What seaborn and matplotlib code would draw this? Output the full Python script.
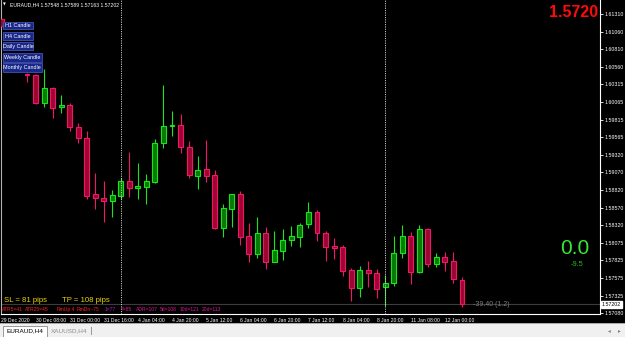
import matplotlib
matplotlib.use("Agg")
import matplotlib.pyplot as plt
import matplotlib.transforms as mtransforms
from matplotlib.patches import Rectangle
import seaborn as sns
import pandas as pd

# ---------------- data (EURAUD, H4) ----------------
opens = [1.61239, 1.61169, 1.60588, 1.60468, 1.60447, 1.60051, 1.60263, 1.59994, 1.60023, 1.59711,
         1.59556, 1.58763, 1.58707, 1.58665, 1.58735, 1.58947, 1.58848, 1.58863, 1.58933, 1.59485,
         1.59719, 1.59740, 1.59428, 1.59018, 1.59117, 1.59032, 1.58283, 1.58551, 1.58763, 1.58169,
         1.57915, 1.58212, 1.57801, 1.57957, 1.58112, 1.58155, 1.58339, 1.58509, 1.58212, 1.58028,
         1.58014, 1.57688, 1.57434, 1.57688, 1.57646, 1.57448, 1.57504, 1.57929, 1.58169, 1.57660,
         1.58268, 1.57773, 1.57872, 1.57816, 1.57548]
highs = [1.61268, 1.61183, 1.60603, 1.60475, 1.60461, 1.60532, 1.60277, 1.60164, 1.60051, 1.59768,
         1.59655, 1.59061, 1.58947, 1.58820, 1.58990, 1.59358, 1.59202, 1.59046, 1.59542, 1.60306,
         1.59938, 1.59895, 1.59513, 1.59301, 1.59527, 1.59103, 1.58622, 1.58763, 1.58806, 1.58353,
         1.58438, 1.58297, 1.58240, 1.58268, 1.58311, 1.58353, 1.58650, 1.58537, 1.58240, 1.58141,
         1.58042, 1.57717, 1.57745, 1.57816, 1.57702, 1.57617, 1.58169, 1.58325, 1.58226, 1.58325,
         1.58283, 1.57929, 1.57943, 1.57943, 1.57589]
lows = [1.61112, 1.61098, 1.60504, 1.60348, 1.60037, 1.59994, 1.59839, 1.59909, 1.59655, 1.59485,
        1.58693, 1.58551, 1.58368, 1.58438, 1.58693, 1.58721, 1.58693, 1.58622, 1.58919, 1.59414,
        1.59584, 1.59343, 1.58990, 1.58834, 1.58933, 1.58268, 1.58155, 1.58297, 1.58042, 1.57801,
        1.57858, 1.57702, 1.57801, 1.57830, 1.58028, 1.58014, 1.58283, 1.58098, 1.57816, 1.57844,
        1.57603, 1.57250, 1.57306, 1.57448, 1.57292, 1.57179, 1.57462, 1.57858, 1.57490, 1.57646,
        1.57731, 1.57731, 1.57674, 1.57504, 1.57163]
closes = [1.61140, 1.61126, 1.60518, 1.60440, 1.60051, 1.60263, 1.59980, 1.60023, 1.59711, 1.59556,
          1.58735, 1.58707, 1.58665, 1.58749, 1.58947, 1.58848, 1.58877, 1.58947, 1.59485, 1.59726,
          1.59733, 1.59428, 1.59032, 1.59103, 1.59018, 1.58283, 1.58565, 1.58763, 1.58155, 1.57915,
          1.58212, 1.57801, 1.57971, 1.58112, 1.58169, 1.58325, 1.58509, 1.58212, 1.58014, 1.57999,
          1.57674, 1.57434, 1.57688, 1.57646, 1.57420, 1.57504, 1.57929, 1.58169, 1.57660, 1.58268,
          1.57773, 1.57872, 1.57801, 1.57561, 1.57202]

time_label_bars = [0, 4, 8, 12, 16, 20, 24, 28, 32, 36, 40, 44, 48, 52]
time_labels = ["29 Dec 2020", "30 Dec 08:00", "31 Dec 00:00", "31 Dec 16:00", "4 Jan 04:00",
               "4 Jan 20:00", "5 Jan 12:00", "6 Jan 04:00", "6 Jan 20:00", "7 Jan 12:00",
               "8 Jan 04:00", "8 Jan 20:00", "11 Jan 08:00", "12 Jan 00:00"]
price_labels = ["1.61310", "1.61060", "1.60810", "1.60560", "1.60315", "1.60065", "1.59815",
                "1.59565", "1.59320", "1.59070", "1.58820", "1.58570", "1.58320", "1.58075",
                "1.57825", "1.57575", "1.57325", "1.57080"]
separator_bars = [14, 45]
current_price = 1.57202
title_text = "EURAUD,H4 1.57548 1.57589 1.57163 1.57202"
buttons = ["H1 Candle", "H4 Candle", "Daily Candle", "Weekly Candle", "Monthly Candle"]
info_items = ["ATR5=41", "ATR25=45", "RmUp:4", "RmDn:-75", "1=77", "7=85", "ADR=107",
              "5d=108", "10d=121", "20d=113"]

# ---------------- style ----------------
sns.set_style("dark", {"axes.facecolor": "black", "figure.facecolor": "black"})
plt.rcParams["font.family"] = ["Liberation Sans", "DejaVu Sans"]

W, H = 625, 337
fig = plt.figure(figsize=(W / 100, H / 100), dpi=100, facecolor="black")


def fx(x):
    return x / W


def fy(y):
    return 1 - y / H


ax = fig.add_axes([fx(1), fy(314), (600 - 1) / W, 314 / H])
ax.set_facecolor("black")

df = pd.DataFrame({"bar": range(len(opens)), "open": opens, "high": highs,
                   "low": lows, "close": closes})
df["up"] = df["close"] >= df["open"]
df["bottom"] = df[["open", "close"]].min(axis=1)
df["height"] = (df["close"] - df["open"]).abs()

GREEN_FILL, GREEN_EDGE = "#077a07", "#19e619"
RED_FILL, RED_EDGE = "#9c0730", "#f0176a"

up = df[df["up"]]
dn = df[~df["up"]]

# wicks
ax.vlines(up["bar"], up["low"], up["high"], colors=GREEN_EDGE, linewidth=0.8, zorder=2)
ax.vlines(dn["bar"], dn["low"], dn["high"], colors=RED_EDGE, linewidth=0.8, zorder=2)
# bodies
ax.bar(up["bar"], up["height"], bottom=up["bottom"], width=0.58, color=GREEN_FILL,
       edgecolor=GREEN_EDGE, linewidth=0.8, zorder=3)
ax.bar(dn["bar"], dn["height"], bottom=dn["bottom"], width=0.58, color=RED_FILL,
       edgecolor=RED_EDGE, linewidth=0.8, zorder=3)

# period separators and bid line
for b in separator_bars:
    ax.axvline(b, color="#c8c8c8", linestyle=(0, (1.2, 1.2)), linewidth=0.7, zorder=4)
ax.axhline(current_price, color="#3c3c3c", linewidth=0.8, zorder=1)

# limits (1 bar = 8.53 px)
ax.set_xlim((1 - 1.4) / 8.53, (600 - 1.4) / 8.53)
ax.set_ylim(1.570659, 1.615081)
ax.grid(False)

# axes frame
for s in ["top"]:
    ax.spines[s].set_visible(False)
for s in ["right", "bottom"]:
    ax.spines[s].set_color("white")
    ax.spines[s].set_linewidth(0.8)
ax.spines["left"].set_color("#b0b0b0")
ax.spines["left"].set_linewidth(0.8)

# price axis
ax.yaxis.tick_right()
ax.set_yticks([float(v) for v in price_labels])
ax.set_yticklabels(price_labels)
ax.tick_params(axis="y", which="both", left=False, right=True, colors="white",
               labelsize=3.8, length=2.2, width=0.6, pad=1)
# time axis
ax.set_xticks(time_label_bars)
ax.set_xticklabels(time_labels, ha="left")
ax.tick_params(axis="x", colors="white", labelsize=3.6, length=2, width=0.6, pad=0.6)

# current price box
trans = mtransforms.blended_transform_factory(ax.transAxes, ax.transData)
ax.text(1.003, current_price, "1.57202", transform=trans, fontsize=3.8, color="black",
        ha="left", va="center", clip_on=False, zorder=10,
        bbox=dict(facecolor="white", edgecolor="white", pad=0.6))

# ---------------- overlays ----------------
fig.text(fx(2.5), fy(5), "\u25bc", fontsize=2.6, color="white", ha="left", va="center",
         family=["DejaVu Sans"])
fig.text(fx(10), fy(5.2), title_text, fontsize=3.7, color="white", ha="left", va="center")

btn_boxes = [(3.3, 21.7, 30, 7.5), (3.3, 32, 30, 8), (3.3, 42.3, 30, 7.7),
             (2.7, 53.3, 39, 8.4), (2.7, 63.3, 39, 9)]
for label, (bx, by, bw, bh) in zip(buttons, btn_boxes):
    r = Rectangle((fx(bx), fy(by + bh)), bw / W, bh / H, transform=fig.transFigure,
                  facecolor="#18278a", edgecolor="#4453b5", linewidth=0.6, zorder=20)
    fig.add_artist(r)
    fig.text(fx(bx + bw / 2), fy(by + bh / 2), label, fontsize=3.9, color="white",
             ha="center", va="center", zorder=21)

fig.text(fx(598), fy(12.8), "1.5720", fontsize=11.5, fontweight="bold", color="#ff0a0a",
         ha="right", va="center")
fig.text(fx(575), fy(248), "0.0", fontsize=15, color="#35e835", ha="center", va="center")
fig.text(fx(577), fy(264.5), "-9.5", fontsize=5.3, color="#22b822", ha="center", va="center")

fig.text(fx(4), fy(301), "SL = 81 pips", fontsize=5.6, color="#e6d400", ha="left", va="center")
fig.text(fx(62), fy(301), "TP = 108 pips", fontsize=5.6, color="#e6d400", ha="left", va="center")

info_x = [2, 25, 57, 77, 105, 121, 136, 160, 180, 202]
info_col = ["#ff1e1e", "#ff1e1e", "#ff1e1e", "#ff1e1e", "#b21fc8", "#e0159a", "#e0159a",
            "#e0159a", "#e0159a", "#e0159a"]
for t, xx, c in zip(info_items, info_x, info_col):
    fig.text(fx(xx), fy(309.3), t, fontsize=3.6, color=c, ha="left", va="center")

fig.text(fx(473), fy(304.5), "-39.40 (1.2)", fontsize=5, color="#7c7c7c", ha="left",
         va="center")

# ---------------- bottom tab bar ----------------
fig.add_artist(Rectangle((0, 0), 1, (337 - 323) / H, transform=fig.transFigure,
                         facecolor="#f0f0f0", edgecolor="none", zorder=30))
fig.add_artist(Rectangle((0, fy(324)), 1, 0.8 / H, transform=fig.transFigure,
                         facecolor="#a9a9a9", edgecolor="none", zorder=31))
fig.add_artist(Rectangle((fx(3), 0), 44 / W, (337 - 325.5) / H, transform=fig.transFigure,
                         facecolor="white", edgecolor="#8a8a8a", linewidth=0.6, zorder=32))
fig.text(fx(25), fy(331), "EURAUD,H4", fontsize=4.6, color="black", ha="center",
         va="center", zorder=33)
fig.text(fx(69), fy(331), "XAUUSD,H4", fontsize=4.6, color="#8c8c8c", ha="center",
         va="center", zorder=33)
fig.add_artist(Rectangle((fx(91), fy(335)), 0.8 / W, 8 / H, transform=fig.transFigure,
                         facecolor="#9a9a9a", edgecolor="none", zorder=33))
fig.text(fx(609), fy(331), "\u25c2", fontsize=4, color="#808080", ha="center", va="center",
         family=["DejaVu Sans"], zorder=33)
fig.text(fx(619), fy(331), "\u25b8", fontsize=4, color="#808080", ha="center", va="center",
         family=["DejaVu Sans"], zorder=33)

fig.savefig("out.png", dpi=100, facecolor="black")
